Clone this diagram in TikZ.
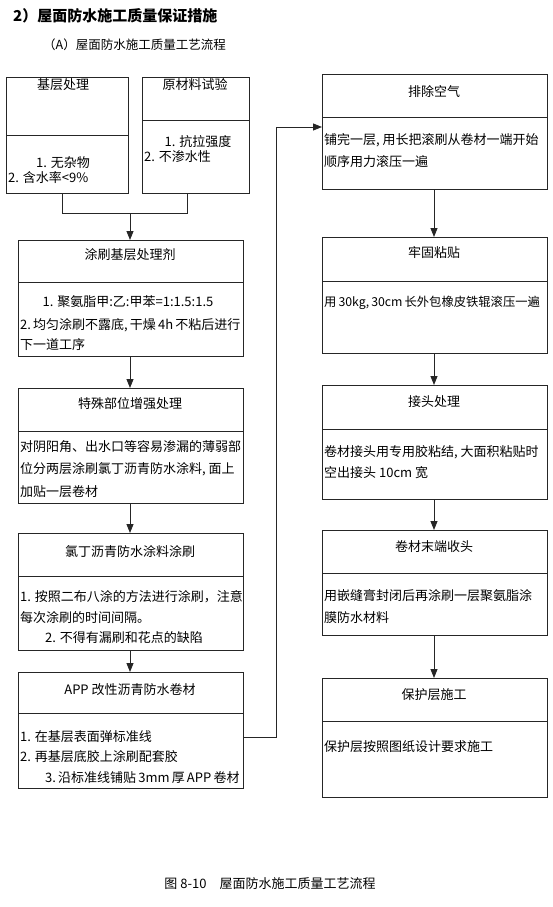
\documentclass[tikz,border=0pt]{standalone}
\usepackage{fontspec}
\setmainfont{Noto Sans CJK SC}
\usetikzlibrary{arrows.meta}
\begin{document}
\begin{tikzpicture}[x=1pt,y=-1pt,
  box/.style={draw=black!85, line width=0.9pt, anchor=north west, inner sep=0pt, outer sep=0pt},
  txt/.style={inner sep=0pt, font=\fontsize{13}{15}\selectfont},
  ltxt/.style={txt, anchor=west},
  arr/.style={draw=black!85, line width=0.9pt, -{Triangle[length=9pt,width=7pt]}},
  ln/.style={draw=black!85, line width=0.9pt}]
\useasboundingbox[fill=white] (0,0) rectangle (553,907);

% headings
\node[anchor=west, inner sep=0pt, font=\fontsize{15}{18}\selectfont\bfseries] (h1) at (13,16) {2）屋面防水施工质量保证措施};
\node[anchor=west, inner sep=0pt, font=\fontsize{12.5}{15}\selectfont] (h2) at (43,45) {（A）屋面防水施工质量工艺流程};
\node[inner sep=0pt, font=\fontsize{13}{15}\selectfont] (cap) at (270,884) {图 8-10\quad 屋面防水施工质量工艺流程};

% left column boxes
\node[box, minimum width=122pt, minimum height=116pt] (b1) at (6,77) {};
\draw[ln] (6,135) -- (128,135);
\node[box, minimum width=107pt, minimum height=116pt] (b2) at (142,77) {};
\draw[ln] (142,120) -- (249,120);
\node[box, minimum width=225pt, minimum height=116pt] (b3) at (18,240) {};
\draw[ln] (18,282) -- (243,282);
\node[box, minimum width=225pt, minimum height=115pt] (b4) at (18,388) {};
\draw[ln] (18,431) -- (243,431);
\node[box, minimum width=225pt, minimum height=117pt] (b5) at (18,533) {};
\draw[ln] (18,576) -- (243,576);
\node[box, minimum width=225pt, minimum height=116pt] (b6) at (18,672) {};
\draw[ln] (18,713) -- (243,713);

% right column boxes
\node[box, minimum width=225pt, minimum height=115pt] (r1) at (322,74) {};
\draw[ln] (322,117) -- (547,117);
\node[box, minimum width=225pt, minimum height=116pt] (r2) at (322,237) {};
\draw[ln] (322,281) -- (547,281);
\node[box, minimum width=225pt, minimum height=114pt] (r3) at (322,385) {};
\draw[ln] (322,429) -- (547,429);
\node[box, minimum width=225pt, minimum height=105pt] (r4) at (322,530) {};
\draw[ln] (322,573) -- (547,573);
\node[box, minimum width=225pt, minimum height=119pt] (r5) at (322,678) {};
\draw[ln] (322,721) -- (547,721);

% texts: box 1
\node[txt] (t1a) at (63,85) {基层处理};
\node[txt] (t1b) at (63,163) {1. 无杂物};
\node[ltxt] (t1c) at (8,178) {2. 含水率<9\%};
% box 2
\node[txt] (t2a) at (195,85) {原材料试验};
\node[txt] (t2b) at (198,142) {1. 抗拉强度};
\node[ltxt] (t2c) at (144,157) {2. 不渗水性};
% box 3
\node[txt] (t3a) at (130,255) {涂刷基层处理剂};
\node[txt] (t3b) at (128,302) {1. 聚氨脂甲:乙:甲苯=1:1.5:1.5};
\node[ltxt] (t3c) at (20,325) {2.\,均匀涂刷不露底,\,干燥\,4h\,不粘后进行};
\node[ltxt] (t3d) at (20,345) {下一道工序};
% box 4
\node[txt] (t4a) at (130,404) {特殊部位增强处理};
\node[ltxt] (t4b) at (20,447) {对阴阳角、出水口等容易渗漏的薄弱部};
\node[ltxt] (t4c) at (20,469) {位分两层涂刷氯丁沥青防水涂料, 面上};
\node[ltxt] (t4d) at (20,492) {加贴一层卷材};
% box 5
\node[txt] (t5a) at (130,552) {氯丁沥青防水涂料涂刷};
\node[ltxt] (t5b) at (20,597) {1. 按照二布八涂的方法进行涂刷，注意};
\node[ltxt] (t5c) at (20,618) {每次涂刷的时间间隔。};
\node[ltxt] (t5d) at (45,638) {2. 不得有漏刷和花点的缺陷};
% box 6
\node[txt] (t6a) at (130,690) {APP 改性沥青防水卷材};
\node[ltxt] (t6b) at (20,737) {1. 在基层表面弹标准线};
\node[ltxt] (t6c) at (20,757) {2. 再基层底胶上涂刷配套胶};
\node[ltxt] (t6d) at (45,778) {3.\,沿标准线铺贴\,3mm\,厚\,APP\,卷材};
% right texts
\node[txt] (s1a) at (434,92) {排除空气};
\node[ltxt] (s1b) at (324,140) {铺完一层, 用长把滚刷从卷材一端开始};
\node[ltxt] (s1c) at (324,162) {顺序用力滚压一遍};
\node[txt] (s2a) at (434,253) {牢固粘贴};
\node[ltxt, font=\fontsize{12.3}{15}\selectfont] (s2b) at (324,303) {用\,30kg,\,30cm\,长外包橡皮铁辊滚压一遍};
\node[txt] (s3a) at (434,402) {接头处理};
\node[ltxt] (s3b) at (324,452) {卷材接头用专用胶粘结, 大面积粘贴时};
\node[ltxt] (s3c) at (324,473) {空出接头 10cm 宽};
\node[txt] (s4a) at (434,547) {卷材末端收头};
\node[ltxt] (s4b) at (324,596) {用嵌缝膏封闭后再涂刷一层聚氨脂涂};
\node[ltxt] (s4c) at (324,618) {膜防水材料};
\node[txt] (s5a) at (434,695) {保护层施工};
\node[ltxt] (s5b) at (324,747) {保护层按照图纸设计要求施工};

% connectors
\coordinate (ja) at (62,213);
\coordinate (jb) at (187,213);
\coordinate (jm) at (130,213);
\draw[ln] (b1.south -| ja) -- (ja) -- (jb) -- (b2.south -| jb);
\draw[arr] (jm) -- (b3.north -| jm);
\coordinate (xl) at (130,0);
\draw[arr] (b3.south -| xl) -- (b4.north -| xl);
\draw[arr] (b4.south -| xl) -- (b5.north -| xl);
\draw[arr] (b5.south -| xl) -- (b6.north -| xl);
\coordinate (l1) at (276,737);
\coordinate (l2) at (276,127);
\draw[arr] (b6.east |- l1) -- (l1) -- (l2) -- (r1.west |- l2);
\coordinate (xr) at (434,0);
\draw[arr] (r1.south -| xr) -- (r2.north -| xr);
\draw[arr] (r2.south -| xr) -- (r3.north -| xr);
\draw[arr] (r3.south -| xr) -- (r4.north -| xr);
\draw[arr] (r4.south -| xr) -- (r5.north -| xr);
\end{tikzpicture}
\end{document}
